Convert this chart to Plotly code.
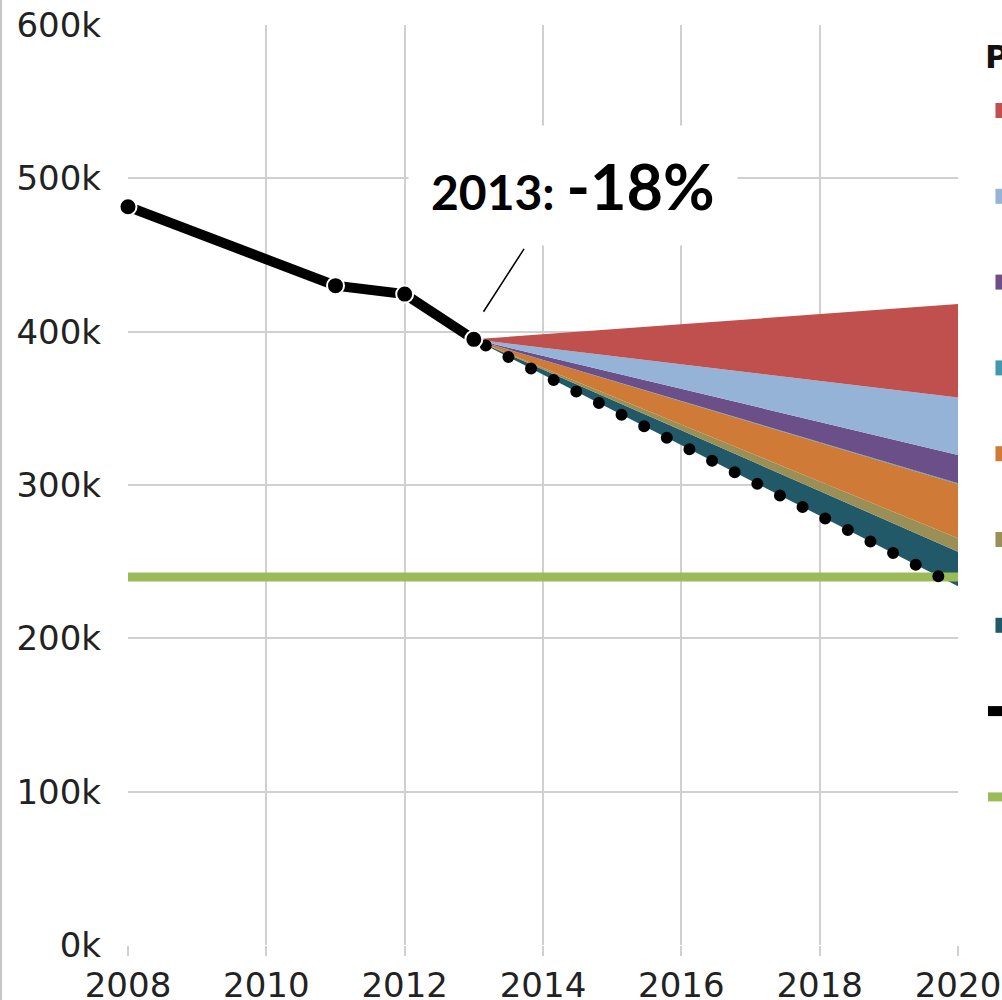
import numpy as np
import plotly.graph_objects as go

# historical emissions (tCO2e)
hist_years = [2008, 2011, 2012, 2013]
hist_values = [481500, 430000, 424500, 395000]

# projected business-as-usual trajectory after the policies
proj_years = [2013, 2020]
trajectory = [395000, 234000]

# target line
target_years = [2008, 2020]
target_values = [240000, 240000]

# reduction wedges, bottom of stack first (value at 2013, value at 2020)
wedge_names = ["Waste", "Water", "Energy supply", "Land use", "Buildings", "Consumption", "Transportation"]
wedge_colors = ["#215968", "#9A9057", "#CF7B37", "#4198AF", "#6B4F89", "#95B3D7", "#C0504D"]
wedge_2013 = [0, 0, 0, 0, 0, 0, 0]
wedge_2020 = [22500, 8700, 35400, 500, 18500, 37400, 61000]

x_ticks = [2008, 2010, 2012, 2014, 2016, 2018, 2020]
y_ticks = [0, 100000, 200000, 300000, 400000, 500000, 600000]
y_tick_labels = ["0k", "100k", "200k", "300k", "400k", "500k", "600k"]

fig = go.Figure()

# invisible base for the stack
fig.add_trace(go.Scatter(x=proj_years, y=trajectory, mode="lines",
                         line=dict(width=0), showlegend=False, hoverinfo="skip"))

stack = np.array(trajectory, dtype=float)
for name, color, v0, v1 in zip(wedge_names, wedge_colors, wedge_2013, wedge_2020):
    stack = stack + np.array([v0, v1])
    fig.add_trace(go.Scatter(
        x=proj_years, y=stack, mode="lines", fill="tonexty",
        fillcolor=color, line=dict(width=0, color=color),
        name=name, legendgroup=name, showlegend=False,
    ))

# legend entries with square swatches (top of stack listed first)
n = len(wedge_names)
for i, (name, color) in enumerate(zip(wedge_names, wedge_colors)):
    fig.add_trace(go.Scatter(
        x=[None], y=[None], mode="markers", name=name, legendgroup=name,
        marker=dict(symbol="square", size=15, color=color),
        legendrank=n - i,
    ))

fig.add_trace(go.Scatter(
    x=target_years, y=target_values, mode="lines", name="2020 Target",
    line=dict(color="#9BBB59", width=9), legendrank=9,
))

# projected path as round dots (linecap set in post script)
fig.add_trace(go.Scatter(
    x=proj_years, y=trajectory, mode="lines", showlegend=False,
    line=dict(color="black", width=12, dash="0px,25.4px"),
))

fig.add_trace(go.Scatter(
    x=hist_years, y=hist_values, mode="lines", name="Emissions",
    line=dict(color="black", width=10),
    legendrank=8,
))
fig.add_trace(go.Scatter(
    x=hist_years, y=hist_values, mode="markers", showlegend=False,
    marker=dict(color="black", size=17, line=dict(color="white", width=2)),
    cliponaxis=False,
))

fig.add_annotation(
    x=2014.43, y=495500, xref="x", yref="y",
    text="<b>2013: <span style='font-size:63px'>-18%</span></b>",
    font=dict(family="Lato", size=48, color="black"),
    showarrow=False, bgcolor="white", borderpad=22,
    xanchor="center", yanchor="middle",
)
fig.add_annotation(
    x=2013.14, y=413000, ax=2013.74, ay=455000, axref="x", ayref="y",
    text="", showarrow=True, arrowhead=0, arrowwidth=1.5, arrowcolor="black",
)

# thin frame line at the left edge of the image
fig.add_shape(type="line", xref="paper", yref="paper",
              x0=-0.1530, x1=-0.1530, y0=-0.06, y1=1.03,
              line=dict(color="#c8c8c8", width=2))

fig.update_xaxes(
    range=[2008, 2020], tickvals=x_ticks, showgrid=True, gridcolor="#d0d0d0", gridwidth=2,
    ticks="outside", ticklen=10, tickcolor="#d0d0d0", tickwidth=2,
    zeroline=False, showline=False, ticklabeloverflow="allow",
    tickfont=dict(family="DejaVu Sans", size=34, color="#222"),
)
fig.update_yaxes(
    range=[0, 600000], tickvals=y_ticks, ticktext=y_tick_labels,
    showgrid=True, gridcolor="#d0d0d0", gridwidth=2, zeroline=False,
    ticklabeloverflow="allow",
    tickfont=dict(family="DejaVu Sans", size=34, color="#222"), ticklabelstandoff=26,
)

fig.update_layout(
    width=1002, height=1000,
    margin=dict(l=128, r=44, t=25, b=55, autoexpand=False),
    plot_bgcolor="white", paper_bgcolor="white",
    showlegend=True,
    legend=dict(
        xref="container", yref="container", x=0.981, y=0.974,
        xanchor="left", yanchor="top", maxheight=1,
        title=dict(text="<b>Policies</b>", font=dict(family="DejaVu Sans", size=32, color="#111")),
        font=dict(family="DejaVu Sans", size=56, color="#111"),
        bgcolor="rgba(0,0,0,0)",
    ),
)

# drop the page margin so the figure sits at the window corner, and give the
# projected path round dots
post = """
document.body.style.margin = '0';
document.body.style.overflow = 'hidden';
document.querySelectorAll('.scatterlayer path.js-line').forEach(function(p){
  var d = p.style.strokeDasharray;
  if (d && d !== 'none') { p.style.strokeLinecap = 'round'; p.style.strokeDashoffset = '12px'; }
});
"""
fig.write_html("out.html", post_script=post, config={"displayModeBar": False})
